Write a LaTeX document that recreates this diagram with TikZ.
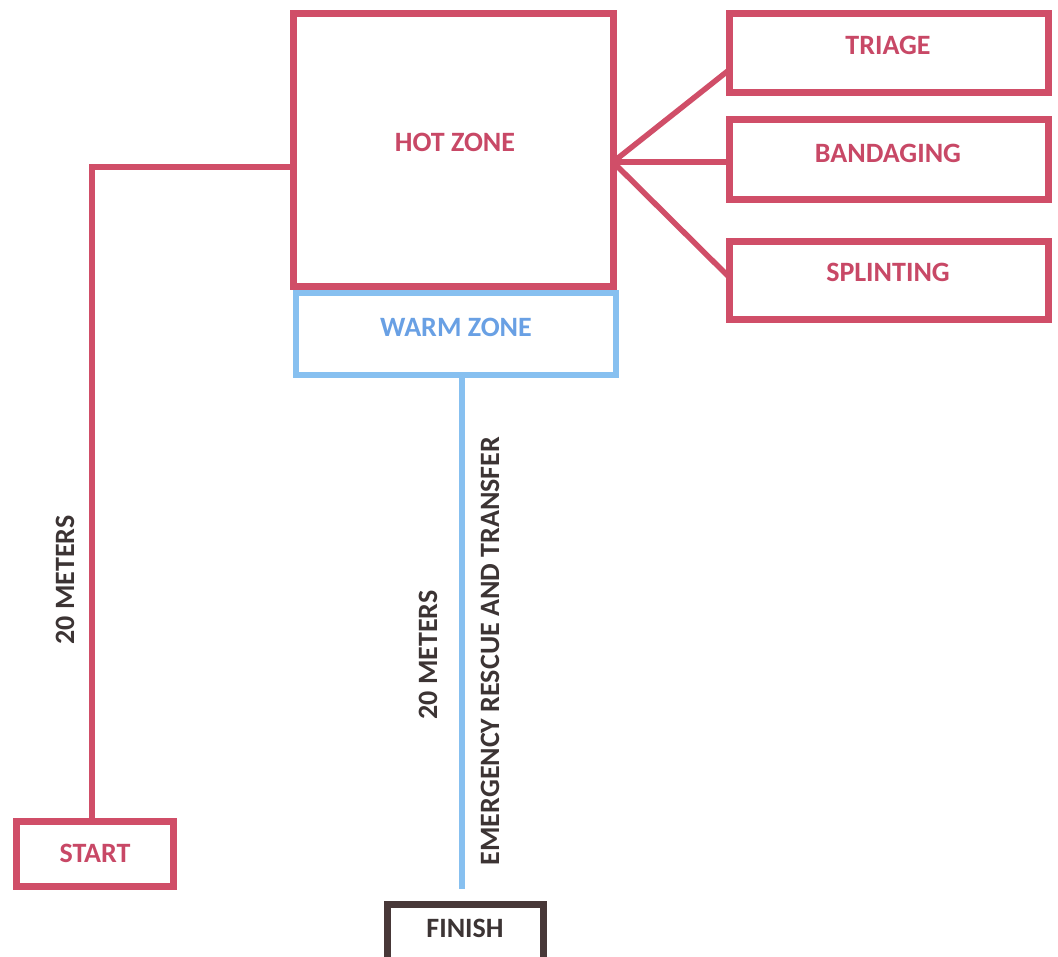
\documentclass[tikz,border=0pt]{standalone}
\usepackage{fontspec}
\setmainfont{Carlito}
\definecolor{zred}{RGB}{208,78,104}
\definecolor{tred}{RGB}{200,72,102}
\definecolor{zblue}{RGB}{135,192,240}
\definecolor{tblue}{RGB}{105,160,228}
\definecolor{zdark}{RGB}{72,56,56}
\definecolor{tdark}{RGB}{60,52,52}
\tikzset{
  zbox/.style={draw=zred, line width=7pt, inner sep=0pt, outer sep=0pt, rectangle},
  wbox/.style={draw=zblue, line width=6.5pt, inner sep=0pt, outer sep=0pt, rectangle},
  fbox/.style={draw=zdark, line width=7pt, inner sep=0pt, outer sep=0pt, rectangle},
  rtxt/.style={text=tred, font=\bfseries\fontsize{28}{30}\selectfont, inner sep=0pt},
  btxt/.style={text=tblue, font=\bfseries\fontsize{28}{30}\selectfont, inner sep=0pt},
  dtxt/.style={text=tdark, font=\bfseries\fontsize{28}{30}\selectfont, inner sep=0pt},
  rline/.style={draw=zred, line width=5.5pt},
  bline/.style={draw=zblue, line width=6pt},
}
\begin{document}
\begin{tikzpicture}[x=1pt,y=-1pt]
\useasboundingbox[fill=white] (0,0) rectangle (1058,957);
% boxes
\node[zbox, minimum width=320pt, minimum height=273pt] (hot) at (453,150.5) {};
\node[rtxt] (hotl) at (455,142) {HOT ZONE};
\node[wbox, minimum width=320pt, minimum height=82pt] (warm) at (456,334) {};
\node[btxt] (warml) at (456,327) {WARM ZONE};
\node[zbox, minimum width=319pt, minimum height=79pt] (triage) at (888.5,53.5) {};
\node[rtxt] (triagel) at (888,45) {TRIAGE};
\node[zbox, minimum width=319pt, minimum height=80pt] (band) at (888.5,160) {};
\node[rtxt] (bandl) at (888,153) {BANDAGING};
\node[zbox, minimum width=319pt, minimum height=78pt] (splint) at (888.5,281) {};
\node[rtxt] (splintl) at (888,272) {SPLINTING};
\node[zbox, minimum width=157pt, minimum height=65pt] (start) at (94.5,853.5) {};
\node[rtxt] (startl) at (95,853) {START};
\node[fbox, minimum width=156pt, minimum height=66pt] (finish) at (465,937) {};
\node[dtxt] (finishl) at (465,928) {FINISH};
% connectors
\coordinate (hotin) at (293,167);
\coordinate (sup) at (92,821);
\draw[rline] (sup) |- (hotin);
\coordinate (fan) at (613,162);
\coordinate (tin) at (729,70);
\coordinate (bin) at (729,162);
\coordinate (sin) at (729,277);
\draw[rline] (fan) -- (tin);
\draw[rline] (fan) -- (bin);
\draw[rline] (fan) -- (sin);
\coordinate (wout) at (462,375);
\coordinate (wend) at (462,889);
\draw[bline] (wout) -- (wend);
% vertical labels
\node[dtxt, rotate=90] (m1) at (65,580) {20 METERS};
\node[dtxt, rotate=90] (m2) at (428,655) {20 METERS};
\node[dtxt, rotate=90] (ert) at (490,651) {EMERGENCY RESCUE AND TRANSFER};
\end{tikzpicture}
\end{document}
